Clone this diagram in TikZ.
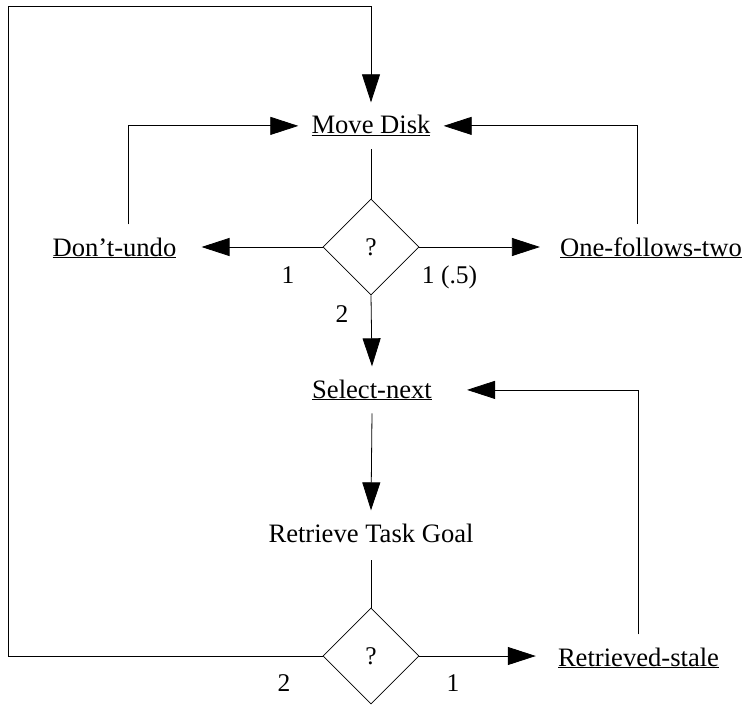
\documentclass[tikz,border=0pt]{standalone}
\usepackage{fontspec}
\setmainfont{Liberation Serif}
\usetikzlibrary{arrows.meta,shapes.geometric}
\begin{document}
\begin{tikzpicture}[x=1bp,y=-1bp,
  every node/.style={font=\fontsize{26.6bp}{32bp}\selectfont},
  txt/.style={inner sep=13bp, anchor=base},
  dia/.style={diamond, draw, line width=0.8bp, minimum width=96bp, minimum height=96bp, inner sep=0pt, font=\fontsize{25.5bp}{30bp}\selectfont},
  lab/.style={inner sep=0pt, anchor=base, font=\fontsize{25.5bp}{30bp}\selectfont},
  conn/.style={line width=0.8bp},
  arr/.style={conn, -{Triangle[length=28bp,width=18bp]}}
]
\useasboundingbox (0,0) rectangle (744,705);

\node[txt] (move) at (371,134) {\underline{Move Disk}};
\node[txt, inner xsep=25bp] (dont) at (114.5,256) {\underline{Don’t-undo}};
\node[txt, inner xsep=20bp] (one) at (651,256) {\underline{One-follows-two}};
\node[dia] (d1) at (371,247) {?};
\node[txt, inner xsep=35bp] (sel) at (372,398) {\underline{Select-next}};
\node[txt] (rtg) at (371,542) {Retrieve Task Goal};
\node[dia] (d2) at (371,656) {?};
\node[txt, inner xsep=22bp] (rs) at (638.5,666) {\underline{Retrieved-stale}};
\coordinate (ctl) at (8,6);

\draw[arr] (d2.west) -| (ctl) -| (move.north);
\draw[conn] (move.south) -- (d1.north);
\draw[arr] ([xshift=13.5bp]dont.north) |- (move.west);
\draw[arr] ([xshift=-14bp]one.north) |- (move.east);
\draw[arr] (d1.west) -- (d1.west -| dont.east);
\draw[arr] (d1.east) -- (d1.east -| one.west);
\draw[arr] (d1.south) -- (sel.north);
\draw[arr] (sel.south) -- (rtg.north);
\draw[conn, shorten <=5bp] (rtg.south) -- (d2.north);
\draw[arr] (d2.east) -- (d2.east -| rs.west);
\draw[arr] (rs.north) |- (sel.east);

\node[lab] (l1) at (288,283) {1};
\node[lab] (l2) at (449.5,283) {1 (.5)};
\node[lab] (l3) at (342,322) {2};
\node[lab] (l4) at (284,691) {2};
\node[lab] (l5) at (453,691) {1};
\end{tikzpicture}
\end{document}
